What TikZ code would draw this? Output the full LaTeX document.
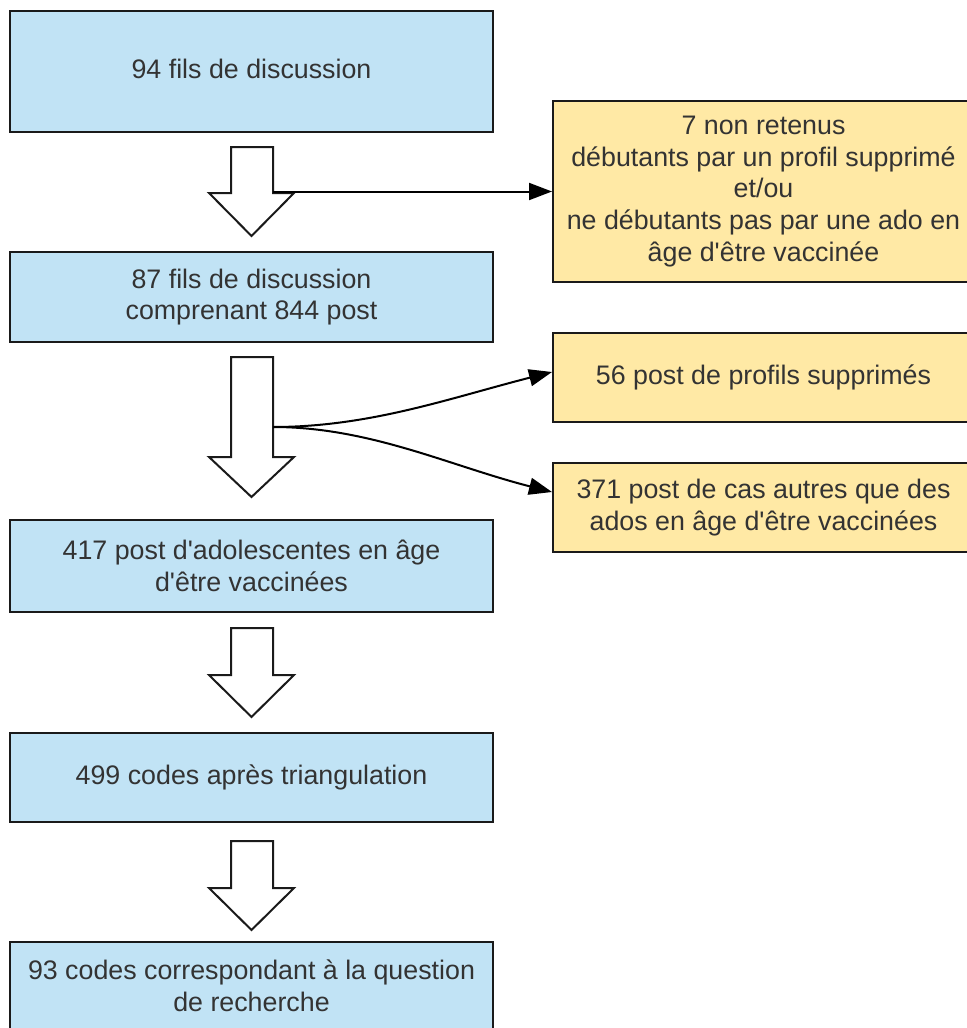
\documentclass[tikz,border=0pt]{standalone}
\usepackage{fontspec}
\setmainfont{Liberation Sans}
\usetikzlibrary{arrows.meta}
\definecolor{boxblue}{HTML}{C1E3F5}
\definecolor{boxyellow}{HTML}{FFE9A5}
\definecolor{txt}{HTML}{333333}
\definecolor{edge}{HTML}{1A1A1A}
\newcommand{\apos}{\textquotesingle}
\tikzset{
  base/.style={draw=edge, line width=1pt, inner sep=0pt, align=center, text=txt,
    font=\fontsize{13.4pt}{15.85pt}\selectfont},
  bluebox/.style={base, fill=boxblue, minimum width=241.5pt},
  yellowbox/.style={base, fill=boxyellow, minimum width=210.5pt},
  blockarrow/.style={draw=edge, line width=1pt, fill=white, line join=miter},
  conn/.style={draw=black, line width=1pt, -{Triangle[length=11.5pt,width=8.5pt]}}
}
\newcommand{\blockarr}[3]{% top, shaft bottom, tip
  \draw[blockarrow] (231,#1) -- (273,#1) -- (273,#2) -- (294,#2) -- (251.5,#3) -- (209,#2) -- (231,#2) -- cycle;}
\begin{document}
\begin{tikzpicture}[x=0.5pt,y=-0.5pt]
\useasboundingbox (0,0) rectangle (967,1028);
\clip (0,0) rectangle (967,1028);
% main boxes
\node[bluebox, minimum height=60.5pt] (b1) at (251.5,71.5) {};
\node[base, draw=none] (t1) at (251.5,69) {94 fils de discussion};
\node[bluebox, minimum height=45pt] (b2) at (251.5,297) {87 fils de discussion\\comprenant 844 post};
\node[bluebox, minimum height=46pt] (b3) at (251.5,566) {417 post d\apos adolescentes en âge\\d\apos être vaccinées};
\node[bluebox, minimum height=44.5pt] (b4) at (251.5,777.5) {499 codes après triangulation};
\node[bluebox, minimum height=44pt] (b5) at (251.5,986) {93 codes correspondant à la question\\de recherche};
% side boxes
\node[yellowbox, minimum height=90.5pt] (y1) at (763.5,191.5) {7 non retenus\\débutants par un profil supprimé\\et/ou\\ne débutants pas par une ado en\\âge d\apos être vaccinée};
\node[yellowbox, minimum height=44.5pt] (y2) at (763.5,377.5) {56 post de profils supprimés};
\node[yellowbox, minimum height=44.5pt] (y3) at (763.5,507.5) {371 post de cas autres que des\\ados en âge d\apos être vaccinées};
% block arrows
\blockarr{147}{193}{236}
\blockarr{357}{457}{497}
\blockarr{628}{675}{717}
\blockarr{841}{888}{930}
% connectors
\coordinate (s1) at (273,191.5);
\coordinate (s2) at (273,427);
\draw[conn] (s1) -- (y1.west);
\draw[conn] (s2) .. controls (370,427) and (450,398) .. ([yshift=2.75pt]y2.west);
\draw[conn] (s2) .. controls (370,427) and (450,466) .. ([yshift=7.75pt]y3.west);
\end{tikzpicture}
\end{document}
